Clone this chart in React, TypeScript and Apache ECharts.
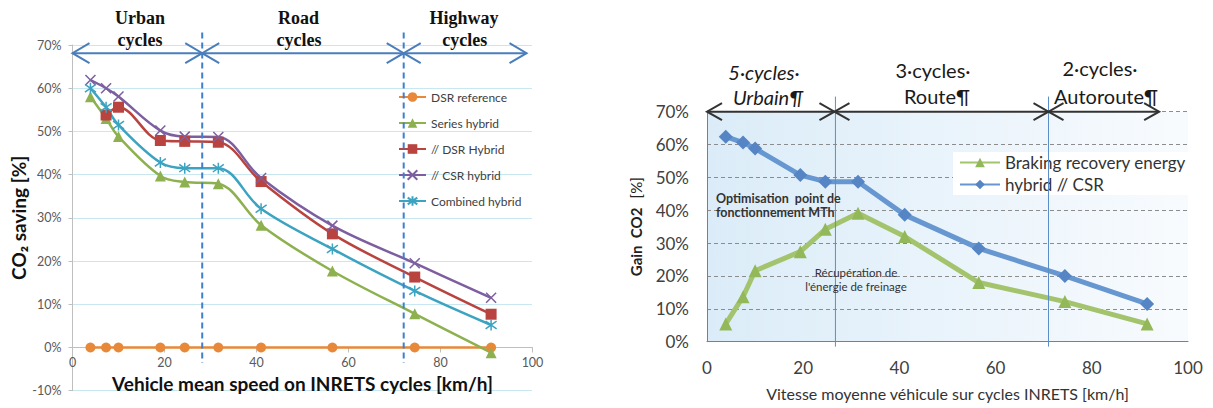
import React, { useEffect, useRef } from "react";
import * as echarts from "echarts";

// ---------- Left chart data ----------
const speedsLeft = [3.9, 7.3, 10.0, 19.1, 24.4, 31.7, 41.0, 56.5, 74.4, 91.0];
const dsrReference = [0, 0, 0, 0, 0, 0, 0, 0, 0, 0];
const seriesHybrid = [58.0, 53.0, 48.8, 39.7, 38.3, 37.9, 28.3, 17.7, 7.8, -1.2];
const dsrHybrid = [null, 53.8, 55.6, 47.9, 47.7, 47.5, 38.4, 26.3, 16.3, 7.7];
const csrHybrid = [61.9, 60.0, 58.1, 50.2, 48.8, 48.7, 39.2, 28.2, 19.5, 11.5];
const combinedHybrid = [60.0, 55.6, 51.5, 42.8, 41.5, 41.5, 32.1, 22.8, 13.1, 5.2];
const leftLegend = ["DSR reference", "Series hybrid", "// DSR Hybrid", "// CSR hybrid", "Combined hybrid"];
const leftYMin = -10;
const leftYMax = 70;
const leftSectionBounds = [0, 28.2, 72, 98.7];
const leftArrowLevel = 68.1;
const leftSections = [["Urban", "cycles"], ["Road", "cycles"], ["Highway", "cycles"]];

// ---------- Right chart data ----------
const speedsRight = [3.9, 7.5, 10.0, 19.4, 24.6, 31.4, 41.1, 56.5, 74.4, 91.5];
const brakingRecovery = [5.4, 13.7, 21.6, 27.4, 34.2, 39.1, 32.0, 18.0, 12.2, 5.4];
const hybridCSR = [62.4, 60.6, 58.8, 50.7, 48.7, 48.7, 38.6, 28.4, 20.0, 11.5];
const rightLegend = ["Braking recovery energy", "hybrid // CSR"];
const rightSectionBounds = [0, 26.5, 71, 94];
const rightArrowLevel = 70;
const rightSections = [["5·cycles·", "Urbain¶"], ["3·cycles·", "Route¶"], ["2·cycles·", "Autoroute¶"]];

const pairs = (xs: number[], ys: (number | null)[]) =>
  xs.map((x, i) => [x, ys[i]]).filter((p) => p[1] !== null);

const ORANGE = "#E8893A";
const GREEN = "#8DB14E";
const RED = "#B8433F";
const PURPLE = "#7D5FA0";
const CYAN = "#3CA3C0";

const LEFT_GRID_H = 345.7;

export default function App() {
  const ref = useRef<HTMLDivElement>(null);
  useEffect(() => {
    const el = ref.current!;
    const chart = echarts.init(el, null, { renderer: "svg" });
    const leftLine = (name: string, ys: (number | null)[], color: string, symbol: string, size: number, extra: any = {}) => ({
      name,
      type: "line",
      xAxisIndex: 0,
      yAxisIndex: 0,
      data: pairs(speedsLeft, ys),
      smooth: 0.35,
      symbol,
      symbolSize: size,
      showAllSymbol: true,
      lineStyle: { width: 2.5, color },
      itemStyle: { color, ...extra },
    });
    // distance of the zero line above the bottom of the left grid
    const zeroOffset = (LEFT_GRID_H * (0 - leftYMin)) / (leftYMax - leftYMin);
    const option: any = {
      animation: false,
      textStyle: { fontFamily: 'Lato, "Open Sans", sans-serif' },
      grid: [
        { left: 72.5, top: 45, width: 460, height: LEFT_GRID_H, outerBoundsMode: "none", containLabel: false },
        {
          left: 707,
          top: 111.7,
          width: 481,
          height: 230,
          outerBoundsMode: "none",
          containLabel: false,
          show: true,
          borderWidth: 0,
          backgroundColor: new echarts.graphic.LinearGradient(0, 0, 1, 0, [
            { offset: 0, color: "#dbecf8" },
            { offset: 1, color: "#f8fbfe" },
          ]),
        },
      ],
      xAxis: [
        {
          gridIndex: 0,
          type: "value",
          min: 0,
          max: 100,
          interval: 20,
          offset: -zeroOffset,
          axisLine: { onZero: false, lineStyle: { color: "#bfbfbf" } },
          axisTick: { show: true, length: 5, lineStyle: { color: "#bfbfbf" } },
          axisLabel: { color: "#595959", fontSize: 12.5, margin: 9 },
          splitLine: { show: false },
          name: "Vehicle mean speed on INRETS cycles [km/h]",
          nameLocation: "middle",
          nameGap: 26,
          nameTextStyle: { fontSize: 19, fontWeight: "bold", color: "#111" },
        },
        {
          gridIndex: 1,
          type: "value",
          min: 0,
          max: 100,
          interval: 20,
          axisLine: { onZero: false, lineStyle: { color: "#7f7f7f" } },
          axisTick: { show: false },
          axisLabel: { color: "#404040", fontSize: 17, margin: 17 },
          splitLine: { show: false },
          name: "Vitesse moyenne véhicule sur cycles INRETS [km/h]",
          nameLocation: "middle",
          nameGap: 44,
          nameTextStyle: { fontSize: 16, color: "#333" },
        },
      ],
      yAxis: [
        {
          gridIndex: 0,
          type: "value",
          min: leftYMin,
          max: leftYMax,
          interval: 10,
          axisLine: { show: true, onZero: false, lineStyle: { color: "#bfbfbf" } },
          axisTick: { show: true, length: 4, lineStyle: { color: "#bfbfbf" } },
          axisLabel: { formatter: "{value}%", color: "#595959", fontSize: 12.5, margin: 11 },
          splitLine: { lineStyle: { color: "#92cfe0", type: "dotted", width: 1 } },
          name: "CO₂ saving [%]",
          nameLocation: "middle",
          nameGap: 41,
          nameTextStyle: { fontSize: 19, fontWeight: "bold", color: "#111" },
        },
        {
          gridIndex: 1,
          type: "value",
          min: 0,
          max: 70,
          interval: 10,
          axisLine: { show: true, onZero: false, lineStyle: { color: "#7f7f7f" } },
          axisTick: { show: false },
          axisLabel: { formatter: "{value}%", color: "#404040", fontSize: 17, margin: 18 },
          splitLine: { lineStyle: { color: "#8c8c8c", type: [4, 3], width: 1 } },
          name: "{b|Gain  CO2}   {n|[%]}",
          nameLocation: "middle",
          nameGap: 64,
          nameTextStyle: {
            rich: {
              b: { fontSize: 15, fontWeight: "bold", color: "#222" },
              n: { fontSize: 15, color: "#222" },
            },
          },
        },
      ],
      legend: [
        {
          data: leftLegend,
          orient: "vertical",
          left: 398,
          top: 91,
          itemWidth: 27,
          itemHeight: 12,
          itemGap: 14,
          padding: 0,
          textStyle: { fontSize: 12, color: "#404040" },
        },
        {
          data: rightLegend,
          orient: "vertical",
          left: 953,
          top: 152,
          itemWidth: 40,
          itemHeight: 12,
          itemGap: 5,
          padding: [2, 6, 2, 6],
          backgroundColor: "#ffffff",
          textStyle: { fontSize: 17, color: "#333" },
        },
      ],
      series: [
        leftLine(leftLegend[0], dsrReference, ORANGE, "circle", 10),
        leftLine(leftLegend[1], seriesHybrid, GREEN, "triangle", 11),
        leftLine(leftLegend[2], dsrHybrid, RED, "rect", 11),
        leftLine(leftLegend[3], csrHybrid, PURPLE, "path://M0,0L10,10M10,0L0,10", 10, { borderColor: PURPLE, borderWidth: 1.5 }),
        leftLine(leftLegend[4], combinedHybrid, CYAN, "path://M5,0L5,10M1,1.5L9,8.5M9,1.5L1,8.5", 11, { borderColor: CYAN, borderWidth: 1.5 }),
        {
          name: rightLegend[0],
          type: "line",
          xAxisIndex: 1,
          yAxisIndex: 1,
          data: pairs(speedsRight, brakingRecovery),
          symbol: "triangle",
          symbolSize: 13,
          lineStyle: { width: 5, color: "#a3c46c" },
          itemStyle: { color: "#93b85a" },
        },
        {
          name: rightLegend[1],
          type: "line",
          xAxisIndex: 1,
          yAxisIndex: 1,
          data: pairs(speedsRight, hybridCSR),
          symbol: "diamond",
          symbolSize: 14,
          lineStyle: { width: 5, color: "#6797d0" },
          itemStyle: { color: "#5585c4" },
        },
      ],
    };
    chart.setOption(option);

    const px = (g: number, x: number, y: number) => chart.convertToPixel({ gridIndex: g }, [x, y]) as number[];
    const graphics: any[] = [];
    const arrow = (x1: number, x2: number, y: number, L: number, H: number, color: string, w: number) => {
      graphics.push({ type: "line", z: 50, shape: { x1, y1: y, x2, y2: y }, style: { stroke: color, lineWidth: w } });
      graphics.push({ type: "polyline", z: 50, shape: { points: [[x1 + L, y - H], [x1, y], [x1 + L, y + H]] }, style: { stroke: color, fill: null, lineWidth: w } });
      graphics.push({ type: "polyline", z: 50, shape: { points: [[x2 - L, y - H], [x2, y], [x2 - L, y + H]] }, style: { stroke: color, fill: null, lineWidth: w } });
    };
    for (let i = 0; i < 3; i++) {
      const a = px(0, leftSectionBounds[i], leftArrowLevel);
      const b = px(0, leftSectionBounds[i + 1], leftArrowLevel);
      arrow(a[0], b[0], a[1], 17, 10, "#4a7ebb", 2);
    }
    for (const v of [leftSectionBounds[1], leftSectionBounds[2]]) {
      const t = px(0, v, 72.9);
      const b = px(0, v, -3.6);
      graphics.push({ type: "line", z: 40, shape: { x1: t[0], y1: t[1], x2: b[0], y2: b[1] }, style: { stroke: "#3f7fcf", lineWidth: 2, lineDash: [6, 4] } });
    }
    for (let i = 0; i < 3; i++) {
      const a = px(1, rightSectionBounds[i], rightArrowLevel);
      const b = px(1, rightSectionBounds[i + 1], rightArrowLevel);
      arrow(a[0], b[0], a[1], 15, 8.5, "#333333", 2);
    }
    for (const v of [26.7, 71.0]) {
      const t = px(1, v, 74.6);
      const b = px(1, v, -1.5);
      graphics.push({ type: "line", z: 40, shape: { x1: t[0], y1: t[1], x2: b[0], y2: b[1] }, style: { stroke: "#5b8dc9", lineWidth: 1 } });
    }
    const leftTitlePos = [[140, 140], [298.5, 299], [464, 464.7]];
    leftSections.forEach((s, i) => {
      s.forEach((t, j) => {
        graphics.push({
          type: "text",
          z: 60,
          x: leftTitlePos[i][j],
          y: j === 0 ? 18 : 39.5,
          style: { text: t, fontFamily: '"Liberation Serif", serif', fontWeight: "bold", fontSize: 18, fill: "#111", align: "center", verticalAlign: "middle" },
        });
      });
    });
    const rightTitlePos = [[[764, 72], [768, 97]], [[933, 70], [937, 96]], [[1100, 68], [1106, 96]]];
    rightSections.forEach((s, i) => {
      s.forEach((t, j) => {
        graphics.push({
          type: "text",
          z: 60,
          x: rightTitlePos[i][j][0],
          y: rightTitlePos[i][j][1],
          style: { text: t, fontFamily: "Lato, sans-serif", fontStyle: i === 0 ? "italic" : "normal", fontSize: 20, fill: "#1a1a1a", align: "center", verticalAlign: "middle" },
        });
      });
    });
    const ann = (text: string, x: number, y: number, align: string, bold: boolean, size: number) =>
      graphics.push({
        type: "text",
        z: 60,
        x,
        y,
        style: { text, fontFamily: "Lato, sans-serif", fontWeight: bold ? "bold" : "normal", fontSize: size, fill: "#333", align, verticalAlign: "middle" },
      });
    ann("Optimisation  point de", 716, 198, "left", true, 12.5);
    ann("fonctionnement MTh", 716, 212.5, "left", true, 12.5);
    ann("Récupération de", 856, 272, "center", false, 11.5);
    ann("l'énergie de freinage", 856, 286, "center", false, 11.5);

    chart.setOption({ graphic: graphics });
    return () => chart.dispose();
  }, []);
  return <div ref={ref} style={{ position: "fixed", left: 0, top: 0, width: 1213, height: 408, background: "#fff" }} />;
}
